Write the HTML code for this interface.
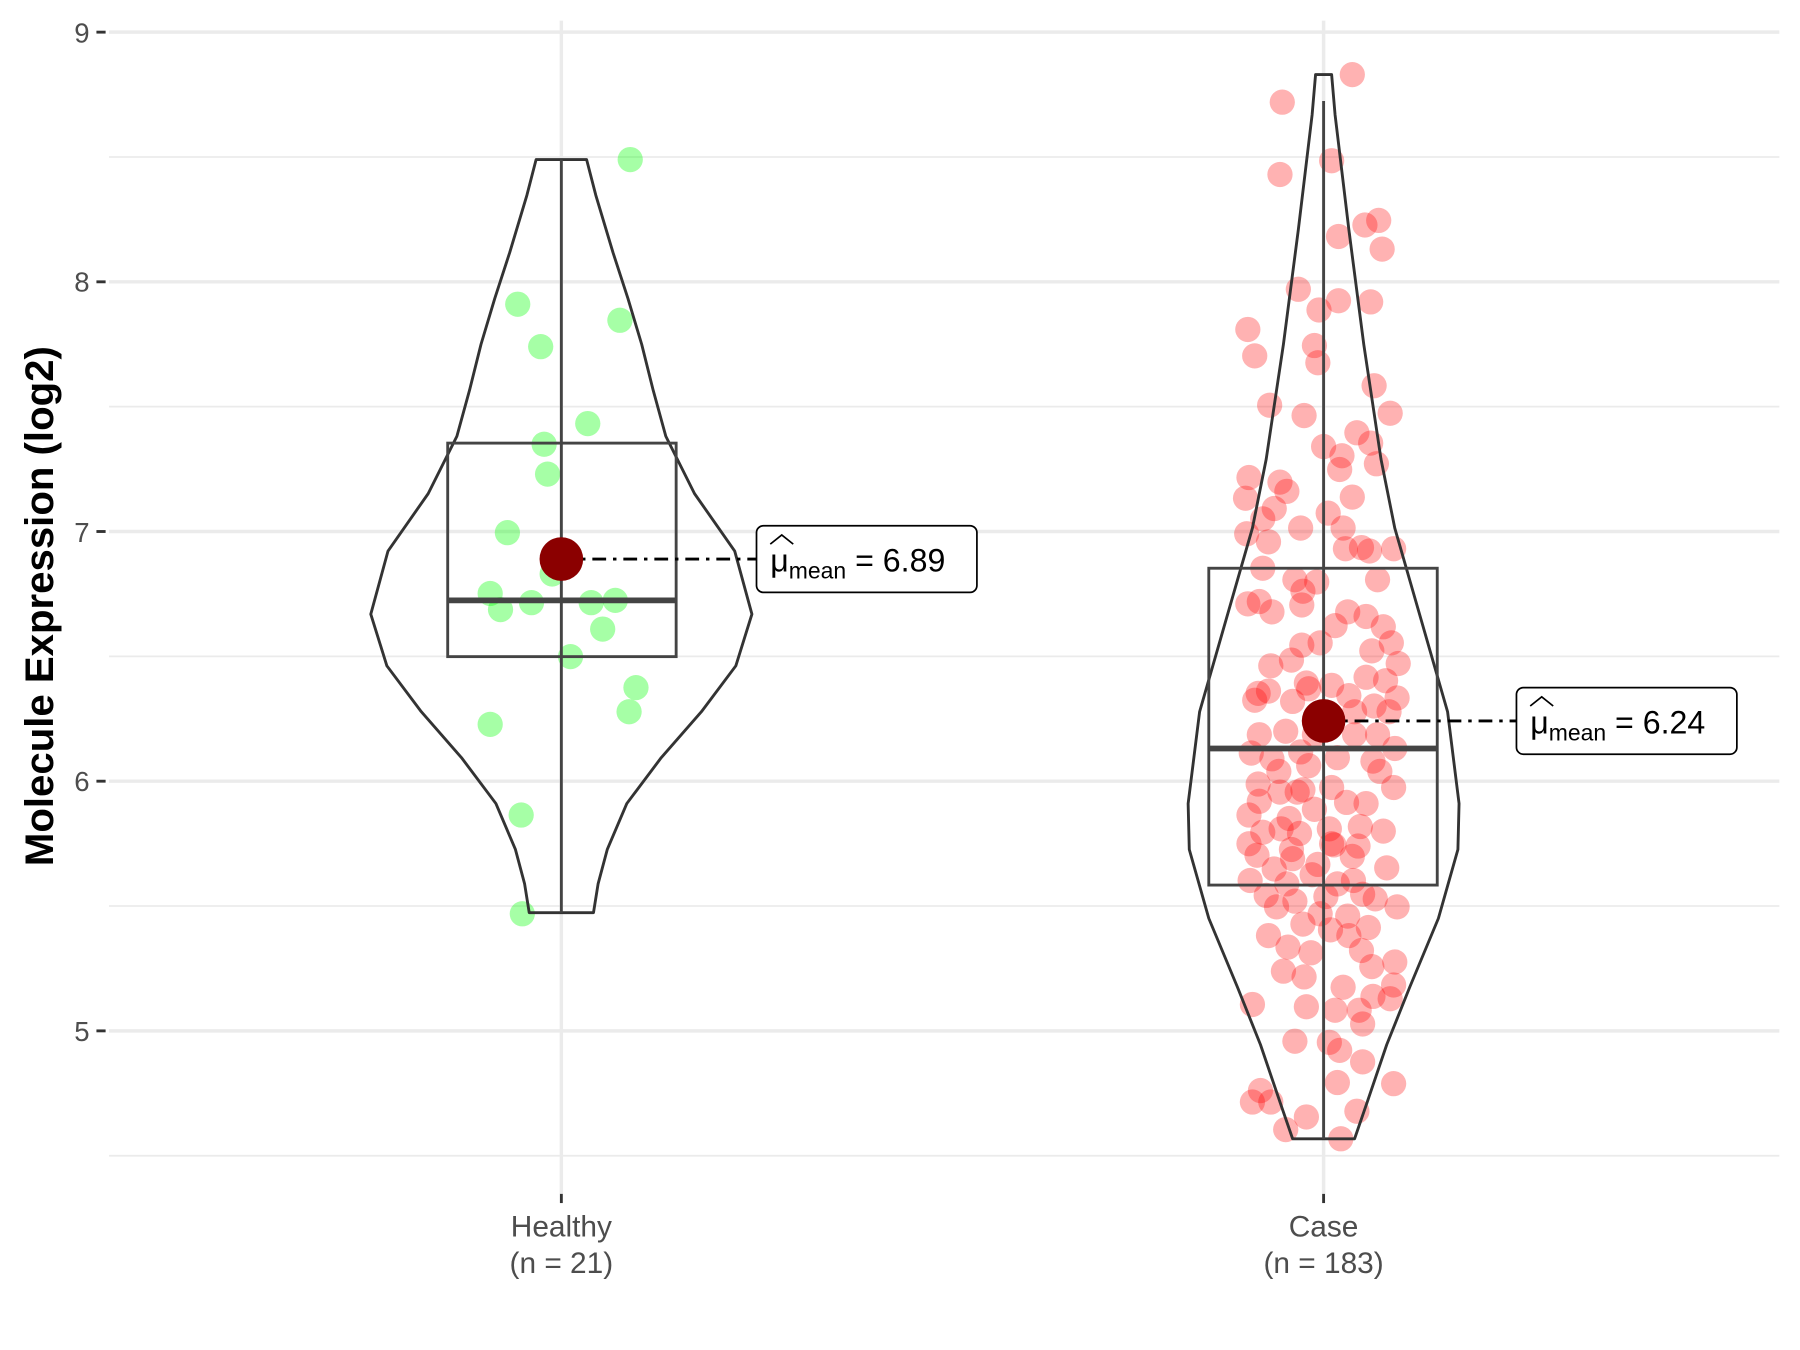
<!DOCTYPE html>
<html><head><meta charset="utf-8"><style>html,body{margin:0;padding:0;background:#fff}svg{display:block}</style></head>
<body>
<svg width="1800" height="1350" viewBox="0 0 1568 1176" preserveAspectRatio="none" xmlns="http://www.w3.org/2000/svg" font-family="Liberation Sans, sans-serif">
<rect width="1568" height="1176" fill="#fff"/>
<g stroke="#ebebeb" stroke-width="1.5">
<line x1="95" x2="1550" y1="136.75" y2="136.75"/><line x1="95" x2="1550" y1="354.25" y2="354.25"/>
<line x1="95" x2="1550" y1="571.75" y2="571.75"/><line x1="95" x2="1550" y1="789.25" y2="789.25"/>
<line x1="95" x2="1550" y1="1006.75" y2="1006.75"/>
</g>
<g stroke="#ebebeb" stroke-width="3">
<line x1="95" x2="1550" y1="28" y2="28"/><line x1="95" x2="1550" y1="245.5" y2="245.5"/>
<line x1="95" x2="1550" y1="463" y2="463"/><line x1="95" x2="1550" y1="680.5" y2="680.5"/>
<line x1="95" x2="1550" y1="898" y2="898"/>
<line x1="489" x2="489" y1="18" y2="1040"/><line x1="1153" x2="1153" y1="18" y2="1040"/>
</g>
<g stroke="#333" stroke-width="2.5">
<line x1="84" x2="92" y1="28" y2="28"/><line x1="84" x2="92" y1="245.5" y2="245.5"/><line x1="84" x2="92" y1="463" y2="463"/><line x1="84" x2="92" y1="680.5" y2="680.5"/><line x1="84" x2="92" y1="898" y2="898"/>
<line x1="489" x2="489" y1="1040" y2="1048"/><line x1="1153" x2="1153" y1="1040" y2="1048"/>
</g>
<g fill="#4d4d4d" font-size="24" text-anchor="end">
<text x="78" y="37">9</text><text x="78" y="254">8</text><text x="78" y="472">7</text><text x="78" y="689">6</text><text x="78" y="907">5</text>
</g>
<g fill="#4d4d4d" font-size="26" text-anchor="middle">
<text x="489" y="1077">Healthy</text><text x="489" y="1109">(n = 21)</text>
<text x="1153" y="1077">Case</text><text x="1153" y="1109">(n = 183)</text>
</g>
<text transform="translate(46,528) rotate(-90)" font-size="35" font-weight="bold" text-anchor="middle" fill="#000">Molecule Expression (log2)</text>
<g fill="rgba(0,255,0,0.35)">
<circle cx="549" cy="139" r="11"/><circle cx="451" cy="265" r="11"/><circle cx="540" cy="279" r="11"/><circle cx="471" cy="302" r="11"/><circle cx="512" cy="369" r="11"/><circle cx="474" cy="387" r="11"/><circle cx="477" cy="413" r="11"/><circle cx="442" cy="464" r="11"/><circle cx="481" cy="500" r="11"/><circle cx="427" cy="517" r="11"/><circle cx="436" cy="531" r="11"/><circle cx="463" cy="525" r="11"/><circle cx="515" cy="525" r="11"/><circle cx="536" cy="523" r="11"/><circle cx="525" cy="548" r="11"/><circle cx="497" cy="572" r="11"/><circle cx="554" cy="599" r="11"/><circle cx="548" cy="620" r="11"/><circle cx="427" cy="631" r="11"/><circle cx="454" cy="710" r="11"/><circle cx="455" cy="796" r="11"/>
</g>
<g fill="rgba(255,0,0,0.3)">
<circle cx="1178" cy="65" r="11"/><circle cx="1117" cy="89" r="11"/><circle cx="1160" cy="140" r="11"/><circle cx="1115" cy="152" r="11"/><circle cx="1189" cy="196" r="11"/><circle cx="1201" cy="192" r="11"/><circle cx="1166" cy="206" r="11"/><circle cx="1204" cy="217" r="11"/>
<circle cx="1131" cy="252" r="11"/><circle cx="1166" cy="262" r="11"/><circle cx="1194" cy="263" r="11"/><circle cx="1149" cy="270" r="11"/><circle cx="1087" cy="287" r="11"/><circle cx="1093" cy="310" r="11"/><circle cx="1145" cy="301" r="11"/><circle cx="1148" cy="316" r="11"/>
<circle cx="1197" cy="336" r="11"/><circle cx="1106" cy="353" r="11"/><circle cx="1136" cy="362" r="11"/><circle cx="1211" cy="360" r="11"/><circle cx="1182" cy="377" r="11"/><circle cx="1153" cy="389" r="11"/><circle cx="1194" cy="386" r="11"/><circle cx="1169" cy="397" r="11"/>
<circle cx="1167" cy="409" r="11"/><circle cx="1199" cy="404" r="11"/><circle cx="1088" cy="416" r="11"/><circle cx="1121" cy="428" r="11"/><circle cx="1178" cy="433" r="11"/><circle cx="1085" cy="434" r="11"/><circle cx="1110" cy="443" r="11"/><circle cx="1100" cy="452" r="11"/>
<circle cx="1157" cy="447" r="11"/><circle cx="1133" cy="460" r="11"/><circle cx="1086" cy="465" r="11"/><circle cx="1105" cy="472" r="11"/><circle cx="1172" cy="478" r="11"/><circle cx="1186" cy="477" r="11"/><circle cx="1214" cy="478" r="11"/><circle cx="1193" cy="480" r="11"/>
<circle cx="1147" cy="507" r="11"/><circle cx="1135" cy="515" r="11"/><circle cx="1087" cy="526" r="11"/><circle cx="1097" cy="524" r="11"/><circle cx="1108" cy="533" r="11"/><circle cx="1134" cy="527" r="11"/><circle cx="1163" cy="545" r="11"/><circle cx="1190" cy="537" r="11"/>
<circle cx="1205" cy="546" r="11"/><circle cx="1174" cy="533" r="11"/><circle cx="1134" cy="562" r="11"/><circle cx="1195" cy="567" r="11"/><circle cx="1212" cy="560" r="11"/><circle cx="1218" cy="578" r="11"/><circle cx="1207" cy="593" r="11"/><circle cx="1138" cy="595" r="11"/>
<circle cx="1160" cy="597" r="11"/><circle cx="1096" cy="604" r="11"/><circle cx="1105" cy="602" r="11"/><circle cx="1126" cy="611" r="11"/><circle cx="1175" cy="606" r="11"/><circle cx="1197" cy="615" r="11"/><circle cx="1217" cy="608" r="11"/><circle cx="1093" cy="610" r="11"/>
<circle cx="1120" cy="637" r="11"/><circle cx="1180" cy="640" r="11"/><circle cx="1090" cy="656" r="11"/><circle cx="1108" cy="661" r="11"/><circle cx="1133" cy="655" r="11"/><circle cx="1165" cy="660" r="11"/><circle cx="1196" cy="663" r="11"/><circle cx="1215" cy="652" r="11"/>
<circle cx="1114" cy="672" r="11"/><circle cx="1140" cy="667" r="11"/><circle cx="1202" cy="672" r="11"/><circle cx="1214" cy="686" r="11"/><circle cx="1096" cy="683" r="11"/><circle cx="1135" cy="688" r="11"/><circle cx="1160" cy="686" r="11"/><circle cx="1097" cy="698" r="11"/>
<circle cx="1173" cy="699" r="11"/><circle cx="1088" cy="710" r="11"/><circle cx="1123" cy="713" r="11"/><circle cx="1145" cy="705" r="11"/><circle cx="1116" cy="722" r="11"/><circle cx="1132" cy="726" r="11"/><circle cx="1158" cy="722" r="11"/><circle cx="1205" cy="724" r="11"/>
<circle cx="1088" cy="735" r="11"/><circle cx="1162" cy="736" r="11"/><circle cx="1183" cy="737" r="11"/><circle cx="1095" cy="745" r="11"/><circle cx="1178" cy="746" r="11"/><circle cx="1126" cy="748" r="11"/><circle cx="1110" cy="757" r="11"/><circle cx="1148" cy="753" r="11"/>
<circle cx="1208" cy="756" r="11"/><circle cx="1089" cy="767" r="11"/><circle cx="1121" cy="770" r="11"/><circle cx="1143" cy="762" r="11"/><circle cx="1179" cy="767" r="11"/><circle cx="1103" cy="780" r="11"/><circle cx="1128" cy="785" r="11"/><circle cx="1155" cy="781" r="11"/>
<circle cx="1187" cy="779" r="11"/><circle cx="1198" cy="783" r="11"/><circle cx="1217" cy="790" r="11"/><circle cx="1112" cy="790" r="11"/><circle cx="1150" cy="796" r="11"/><circle cx="1174" cy="798" r="11"/><circle cx="1135" cy="805" r="11"/><circle cx="1192" cy="808" r="11"/>
<circle cx="1159" cy="810" r="11"/><circle cx="1122" cy="825" r="11"/><circle cx="1186" cy="828" r="11"/><circle cx="1215" cy="838" r="11"/><circle cx="1195" cy="842" r="11"/><circle cx="1118" cy="846" r="11"/><circle cx="1136" cy="851" r="11"/><circle cx="1214" cy="858" r="11"/>
<circle cx="1196" cy="868" r="11"/><circle cx="1211" cy="870" r="11"/><circle cx="1091" cy="875" r="11"/><circle cx="1138" cy="877" r="11"/><circle cx="1163" cy="880" r="11"/><circle cx="1184" cy="880" r="11"/><circle cx="1187" cy="892" r="11"/><circle cx="1128" cy="907" r="11"/>
<circle cx="1158" cy="908" r="11"/><circle cx="1167" cy="915" r="11"/><circle cx="1187" cy="925" r="11"/><circle cx="1165" cy="943" r="11"/><circle cx="1214" cy="944" r="11"/><circle cx="1098" cy="950" r="11"/><circle cx="1091" cy="960" r="11"/><circle cx="1107" cy="960" r="11"/>
<circle cx="1138" cy="973" r="11"/><circle cx="1182" cy="968" r="11"/><circle cx="1120" cy="984" r="11"/><circle cx="1168" cy="992" r="11"/><circle cx="1142" cy="830" r="11"/><circle cx="1105" cy="815" r="11"/><circle cx="1170" cy="860" r="11"/><circle cx="1145" cy="640" r="11"/>
<circle cx="1107" cy="580" r="11"/><circle cx="1190" cy="590" r="11"/><circle cx="1125" cy="575" r="11"/><circle cx="1150" cy="560" r="11"/><circle cx="1180" cy="620" r="11"/><circle cx="1115" cy="690" r="11"/><circle cx="1190" cy="700" r="11"/><circle cx="1128" cy="505" r="11"/>
<circle cx="1100" cy="495" r="11"/><circle cx="1200" cy="505" r="11"/><circle cx="1160" cy="735" r="11"/><circle cx="1100" cy="725" r="11"/><circle cx="1200" cy="640" r="11"/><circle cx="1125" cy="740" r="11"/><circle cx="1165" cy="770" r="11"/><circle cx="1185" cy="720" r="11"/>
<circle cx="1140" cy="600" r="11"/><circle cx="1210" cy="620" r="11"/><circle cx="1097" cy="640" r="11"/><circle cx="1115" cy="420" r="11"/><circle cx="1170" cy="460" r="11"/><circle cx="1130" cy="690" r="11"/><circle cx="1175" cy="815" r="11"/>
</g>
<g fill="none" stroke="#333" stroke-width="2.5" stroke-linejoin="round">
<polygon points="511,139 519,170 534,220 547,260 559,300 569,340 580,380 605,430 640,480 655,535 641,580 611,620 576,660 546,700 529,740 521,770 517,795 461,795 457,770 449,740 432,700 402,660 367,620 337,580 323,535 338,480 373,430 398,380 409,340 419,300 431,260 444,220 459,170 467,139"/>
<polygon points="1160,65 1163,100 1169,150 1175,200 1188,300 1203,400 1215,460 1238,540 1261,620 1271,700 1270,740 1253,800 1228,860 1208,910 1191,960 1180,992 1126,992 1115,960 1098,910 1078,860 1053,800 1036,740 1035,700 1045,620 1068,540 1091,460 1103,400 1118,300 1131,200 1137,150 1143,100 1146,65"/>
</g>
<g fill="none" stroke="#444" stroke-width="2.5">
<line x1="489" x2="489" y1="139" y2="795"/><rect x="390" y="386" width="199" height="186"/>
<line x1="390" x2="589" y1="523" y2="523" stroke-width="5"/>
<line x1="1153" x2="1153" y1="88" y2="992"/><rect x="1053" y="495" width="199" height="276"/>
<line x1="1053" x2="1252" y1="652" y2="652" stroke-width="5"/>
</g>
<g stroke="#000" stroke-width="2.5" stroke-dasharray="12,6,3,6">
<line x1="489" x2="659" y1="487" y2="487"/><line x1="1153" x2="1321" y1="628" y2="628"/>
</g>
<circle cx="489" cy="487" r="19" fill="#8b0000"/><circle cx="1153" cy="628" r="19" fill="#8b0000"/>
<g fill="#fff" stroke="#000" stroke-width="1.5">
<rect x="659" y="458" width="192" height="58" rx="6"/><rect x="1321" y="599" width="192" height="58" rx="6"/>
</g>
<g font-size="28" fill="#000">
<text x="671" y="498">μ<tspan font-size="20" dy="6">mean</tspan><tspan dy="-6"> = 6.89</tspan></text>
<path d="M671,474 L681,466 L691,474" fill="none" stroke="#000" stroke-width="1.5"/>
<text x="1333" y="639">μ<tspan font-size="20" dy="6">mean</tspan><tspan dy="-6"> = 6.24</tspan></text>
<path d="M1333,615 L1343,607 L1353,615" fill="none" stroke="#000" stroke-width="1.5"/>
</g>
</svg>
</body></html>
